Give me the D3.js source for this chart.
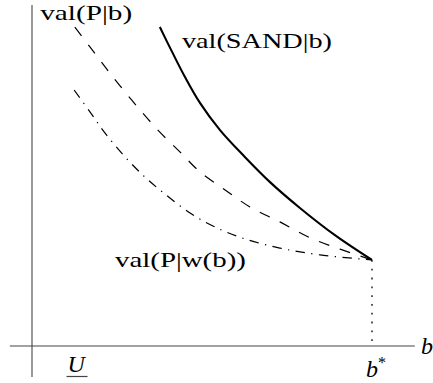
<!DOCTYPE html>
<html>
<head>
<meta charset="utf-8">
<script src="https://cdn.jsdelivr.net/npm/d3@7/dist/d3.min.js"></script>
<style>
  html, body { margin: 0; padding: 0; background: #fff; }
  svg { display: block; }
</style>
</head>
<body>
<svg id="chart" width="433" height="383"></svg>
<script>
// Budget b on the horizontal axis (b* = 1), value on the vertical axis.
const bStar = 1.0;
const valAtBStar = 0.253;

// val(SAND|b): solid curve
const sandB   = [0.376, 0.412, 0.450, 0.494, 0.553, 0.626, 0.700, 0.788, 0.891, 1.0];
const sandVal = [0.938, 0.865, 0.791, 0.715, 0.635, 0.556, 0.482, 0.406, 0.326, 0.253];

// val(P|b): dashed curve
const pB   = [0.126, 0.171, 0.215, 0.259, 0.318, 0.376, 0.435, 0.494, 0.568, 0.641, 0.729, 0.818, 0.906, 1.0];
const pVal = [0.938, 0.879, 0.821, 0.765, 0.694, 0.629, 0.571, 0.512, 0.459, 0.409, 0.365, 0.318, 0.285, 0.253];

// val(P|w(b)): dash-dotted curve
const pwB   = [0.124, 0.171, 0.215, 0.274, 0.332, 0.391, 0.465, 0.538, 0.626, 0.729, 0.847, 1.0];
const pwVal = [0.753, 0.688, 0.626, 0.556, 0.497, 0.447, 0.391, 0.350, 0.315, 0.288, 0.268, 0.253];

// Marked positions on the b axis
const tickNames = ["U", "b"];
const tickB     = [0.13, bStar];

const serif = "Liberation Serif, Tinos, Times New Roman, Times, DejaVu Serif, Noto Serif, serif";

const svg = d3.select("#chart");

const x = d3.scaleLinear().domain([0, 1]).range([32, 372]);
const y = d3.scaleLinear().domain([0, 1]).range([346, 6]);

const axisColor = "#444";

// axes
svg.append("line")
  .attr("x1", x(-0.065)).attr("x2", x(1.126))
  .attr("y1", y(0)).attr("y2", y(0))
  .attr("stroke", axisColor).attr("stroke-width", 1.1);
svg.append("line")
  .attr("x1", x(0)).attr("x2", x(0))
  .attr("y1", y(-0.091)).attr("y2", y(1.003))
  .attr("stroke", axisColor).attr("stroke-width", 1.1);

// dotted drop line from the meeting point to the axis
svg.append("line")
  .attr("x1", x(bStar)).attr("x2", x(bStar))
  .attr("y1", y(valAtBStar)).attr("y2", y(0))
  .attr("stroke", "#000").attr("stroke-width", 1.3)
  .attr("stroke-dasharray", "1.8,7");

const line = d3.line()
  .x(d => x(d[0]))
  .y(d => y(d[1]))
  .curve(d3.curveCatmullRom.alpha(0.5));

function draw(bs, vs, width, dash) {
  svg.append("path")
    .datum(d3.zip(bs, vs))
    .attr("d", line)
    .attr("fill", "none")
    .attr("stroke", "#000")
    .attr("stroke-width", width)
    .attr("stroke-dasharray", dash);
}

draw(pwB, pwVal, 1.2, "9.5,6.4,1.3,6.4");
draw(pB, pVal, 1.2, "11,11");
draw(sandB, sandVal, 2.1, null);

// curve labels
function label(txt, px, py, len) {
  svg.append("text")
    .attr("x", px).attr("y", py)
    .style("font-family", serif)
    .attr("font-size", 22)
    .attr("textLength", len)
    .attr("lengthAdjust", "spacingAndGlyphs")
    .text(txt);
}
label("val(P|b)", x(0.024), 20, 92);
label("val(SAND|b)", x(0.441), 48, 150);
label("val(P|w(b))", x(0.244), 267, 131);

// axis name
svg.append("text")
  .attr("x", x(1.144)).attr("y", 354)
  .style("font-family", serif)
  .attr("font-size", 24)
  .attr("font-style", "italic")
  .text("b");

// marked positions below the axis
const uLabel = svg.append("text")
  .attr("x", x(tickB[0])).attr("y", 372)
  .style("font-family", serif)
  .attr("font-size", 24)
  .attr("font-style", "italic")
  .attr("text-anchor", "middle")
  .text(tickNames[0]);
const ub = uLabel.node().getBBox();
svg.append("line")
  .attr("x1", ub.x - 1).attr("x2", ub.x + ub.width + 1)
  .attr("y1", 376.5).attr("y2", 376.5)
  .attr("stroke", "#444").attr("stroke-width", 1.2);

const bs = svg.append("text")
  .attr("x", x(tickB[1]) - 6).attr("y", 377)
  .style("font-family", serif)
  .attr("font-size", 24)
  .attr("font-style", "italic");
bs.append("tspan").text(tickNames[1]);
bs.append("tspan")
  .attr("font-size", 16)
  .attr("font-style", "normal")
  .attr("dy", -9)
  .text("*");
</script>
</body>
</html>
